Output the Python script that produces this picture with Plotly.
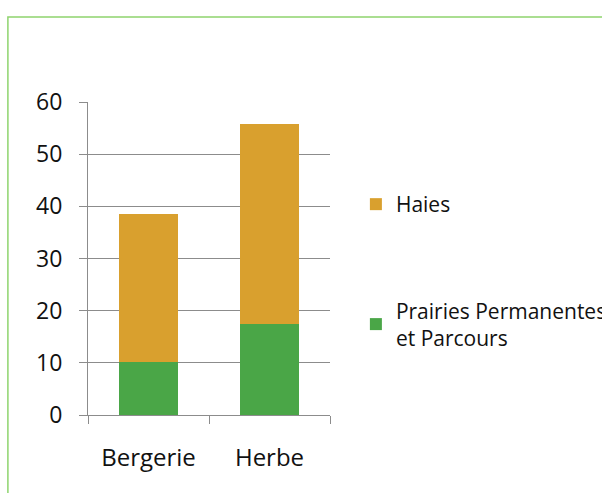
import plotly.graph_objects as go

categories = ["Bergerie", "Herbe"]
prairies = [10.2, 17.5]
haies = [28.3, 38.2]
y_ticks = [0, 10, 20, 30, 40, 50, 60]

ORANGE = "#D9A02E"
GREEN = "#4AA647"
GRID = "#8C8C8C"
FONT = "Open Sans"

fig = go.Figure()
fig.add_trace(go.Bar(x=categories, y=prairies, name="Prairies Permanentes<br>et Parcours",
                     marker=dict(color=GREEN, line=dict(width=0)), legendgroup="b",
                     legendrank=2))
fig.add_trace(go.Bar(x=categories, y=haies, name="Haies",
                     marker=dict(color=ORANGE, line=dict(width=0)), legendgroup="a",
                     legendrank=1))

fig.update_layout(
    width=602, height=493,
    margin=dict(l=88, r=272, t=102, b=78, autoexpand=False),
    barmode="stack", bargap=0.51,
    plot_bgcolor="white", paper_bgcolor="white",
    font=dict(family=FONT, size=22, color="#111111"),
    legend=dict(x=1.107, y=0.738, xanchor="left", yanchor="top", bgcolor="rgba(0,0,0,0)",
                font=dict(size=21), itemwidth=30, traceorder="grouped",
                tracegroupgap=76),
    shapes=[dict(type="rect", xref="paper", yref="paper", x0=-0.331, x1=3.0, y0=-1.0, y1=1.2716,
                 line=dict(color="#8FD46E", width=1.5), layer="below")],
)
fig.update_yaxes(range=[0, 60], tickvals=y_ticks, showgrid=True, gridcolor=GRID, gridwidth=1,
                 showline=True, linecolor=GRID, linewidth=1, ticks="outside", ticklen=8,
                 tickcolor=GRID, zeroline=False, ticklabelstandoff=12, tickfont=dict(size=23))
fig.update_xaxes(showline=True, linecolor=GRID, linewidth=1, ticks="outside", ticklen=8,
                 tickcolor=GRID, tickson="boundaries", ticklabelstandoff=21, tickfont=dict(size=24))

fig.write_html("out.html", post_script="document.body.style.margin='0';",
               config={"displayModeBar": False})
